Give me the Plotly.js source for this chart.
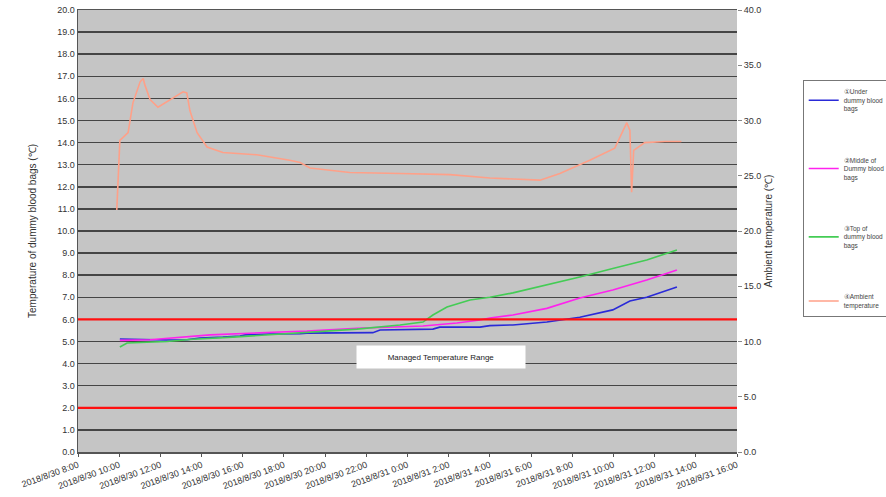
<!DOCTYPE html>
<html>
<head>
<meta charset="utf-8">
<script src="https://cdn.plot.ly/plotly-3.0.1.min.js"></script>
<style>html,body{margin:0;padding:0;background:#fff;}#chart{width:886px;height:497px;}</style>
</head>
<body>
<div id="chart"></div>
<script>
// ---- Data ----
const underTimes = ["2018-08-30 10:02","2018-08-30 11:30","2018-08-30 12:19","2018-08-30 13:17","2018-08-30 13:55","2018-08-30 15:02","2018-08-30 15:52","2018-08-30 16:07","2018-08-30 17:19","2018-08-30 18:47","2018-08-30 19:07","2018-08-30 22:19","2018-08-30 22:40","2018-08-31 01:14","2018-08-31 01:34","2018-08-31 03:31","2018-08-31 04:00","2018-08-31 05:07","2018-08-31 06:46","2018-08-31 08:22","2018-08-31 09:58","2018-08-31 10:48","2018-08-31 11:37","2018-08-31 13:05"];
const underValues = [5.11,5.08,5.07,5.08,5.16,5.20,5.25,5.30,5.34,5.35,5.38,5.40,5.52,5.56,5.65,5.65,5.72,5.75,5.88,6.10,6.43,6.83,7.00,7.47];

const middleTimes = ["2018-08-30 10:02","2018-08-30 11:30","2018-08-30 14:25","2018-08-30 15:02","2018-08-30 16:30","2018-08-30 17:28","2018-08-30 19:07","2018-08-30 21:33","2018-08-31 00:45","2018-08-31 02:24","2018-08-31 03:31","2018-08-31 04:00","2018-08-31 05:07","2018-08-31 06:46","2018-08-31 08:22","2018-08-31 09:58","2018-08-31 11:37","2018-08-31 13:05"];
const middleValues = [5.05,5.08,5.30,5.33,5.38,5.42,5.47,5.60,5.70,5.84,5.97,6.06,6.20,6.50,6.97,7.33,7.78,8.24];

const topTimes = ["2018-08-30 10:02","2018-08-30 10:23","2018-08-30 12:19","2018-08-30 13:35","2018-08-30 15:31","2018-08-30 18:47","2018-08-30 19:07","2018-08-30 21:33","2018-08-30 23:38","2018-08-31 00:45","2018-08-31 01:14","2018-08-31 01:55","2018-08-31 03:02","2018-08-31 04:00","2018-08-31 05:07","2018-08-31 06:46","2018-08-31 08:22","2018-08-31 09:58","2018-08-31 11:37","2018-08-31 13:05"];
const topValues = [4.75,4.93,5.00,5.10,5.20,5.40,5.43,5.56,5.75,5.88,6.20,6.56,6.88,7.00,7.20,7.56,7.92,8.30,8.69,9.14];

const ambientTimes = ["2018-08-30 09:53","2018-08-30 10:02","2018-08-30 10:26","2018-08-30 10:40","2018-08-30 11:01","2018-08-30 11:10","2018-08-30 11:15","2018-08-30 11:30","2018-08-30 11:53","2018-08-30 12:28","2018-08-30 13:06","2018-08-30 13:17","2018-08-30 13:26","2018-08-30 13:47","2018-08-30 14:16","2018-08-30 15:02","2018-08-30 16:41","2018-08-30 18:17","2018-08-30 18:47","2018-08-30 19:16","2018-08-30 21:12","2018-08-30 23:38","2018-08-31 02:04","2018-08-31 04:00","2018-08-31 06:26","2018-08-31 07:24","2018-08-31 08:51","2018-08-31 10:04","2018-08-31 10:39","2018-08-31 10:48","2018-08-31 10:53","2018-08-31 10:59","2018-08-31 11:31","2018-08-31 12:30","2018-08-31 13:18"];
const ambientValues = [21.9,28.2,28.9,31.6,33.5,33.8,33.2,31.9,31.2,31.9,32.6,32.5,30.9,28.9,27.6,27.1,26.9,26.4,26.2,25.7,25.3,25.2,25.1,24.8,24.6,25.2,26.4,27.5,29.8,29.1,23.5,27.3,28.0,28.1,28.1];

const seriesNames = ["①Under<br>dummy blood<br>bags","②Middle of<br>Dummy blood<br>bags","③Top of<br>dummy blood<br>bags","④Ambient<br>temperature"];
const rangeLimits = [6, 2];
const rangeLabel = "Managed Temperature Range";
const xRange = ["2018-08-30 08:00","2018-08-31 16:00"];

const font = "Liberation Sans, Arial, sans-serif";
const traces = [
  {x: underTimes, y: underValues, name: seriesNames[0], type: "scatter", mode: "lines", line: {color: "#2a2ad8", width: 1.6}, yaxis: "y", legendgroup: "a"},
  {x: middleTimes, y: middleValues, name: seriesNames[1], type: "scatter", mode: "lines", line: {color: "#ff22ee", width: 1.6}, yaxis: "y", legendgroup: "b"},
  {x: topTimes, y: topValues, name: seriesNames[2], type: "scatter", mode: "lines", line: {color: "#44cc55", width: 1.6}, yaxis: "y", legendgroup: "c"},
  {x: ambientTimes, y: ambientValues, name: seriesNames[3], type: "scatter", mode: "lines", line: {color: "#ffa088", width: 1.6}, yaxis: "y2", legendgroup: "d"}
];

const shapes = rangeLimits.map(v => ({type: "line", xref: "paper", x0: 0, x1: 1, yref: "y", y0: v, y1: v, line: {color: "#ff1010", width: 2.2}, layer: "above"}));

const layout = {
  width: 886, height: 497,
  margin: {l: 78, r: 149, t: 10, b: 45, autoexpand: false},
  paper_bgcolor: "#ffffff",
  plot_bgcolor: "#c5c5c5",
  font: {family: font, size: 9, color: "#333"},
  showlegend: true,
  legend: {xref: "container", yref: "container", x: 0.906, xanchor: "left", y: 0.839, yanchor: "top",
           bordercolor: "#777", borderwidth: 1, bgcolor: "#ffffff",
           font: {size: 6.5, color: "#444"}, traceorder: "grouped", tracegroupgap: 40, itemwidth: 30},
  xaxis: {type: "date", range: xRange, tick0: "2018-08-30 08:00", dtick: 7200000, tickformat: "%Y/%-m/%-d %-H:%M",
          tickangle: -20, ticks: "outside", ticklen: 3, tickcolor: "#555", showgrid: false, showline: true, linecolor: "#555", linewidth: 1.5,
          tickfont: {size: 9, color: "#333"}, mirror: true, zeroline: false, automargin: false},
  yaxis: {range: [0, 20], dtick: 1, tickformat: ".1f", showgrid: true, gridcolor: "#454545", gridwidth: 1.5, zeroline: false,
          showline: true, linecolor: "#555", linewidth: 1.5, ticks: "", tickfont: {size: 9, color: "#333"}, automargin: false,
          title: {text: "Temperature of dummy blood bags (℃)", font: {size: 10, color: "#333"}, standoff: 18}},
  yaxis2: {range: [0, 40], dtick: 5, tickformat: ".1f", overlaying: "y", side: "right", showgrid: false, zeroline: false,
           ticks: "outside", ticklen: 4, tickcolor: "#888", tickfont: {size: 9, color: "#333"}, automargin: false,
           title: {text: "Ambient temperature (℃)", font: {size: 10, color: "#333"}, standoff: 4}},
  shapes: shapes,
  annotations: [{xref: "paper", yref: "paper", x: 0.551, y: 0.188, text: rangeLabel, showarrow: false,
                 bgcolor: "#ffffff", width: 166, height: 20, font: {size: 8, color: "#222"}}]
};

Plotly.newPlot("chart", traces, layout, {displayModeBar: false, staticPlot: true});
</script>
</body>
</html>
